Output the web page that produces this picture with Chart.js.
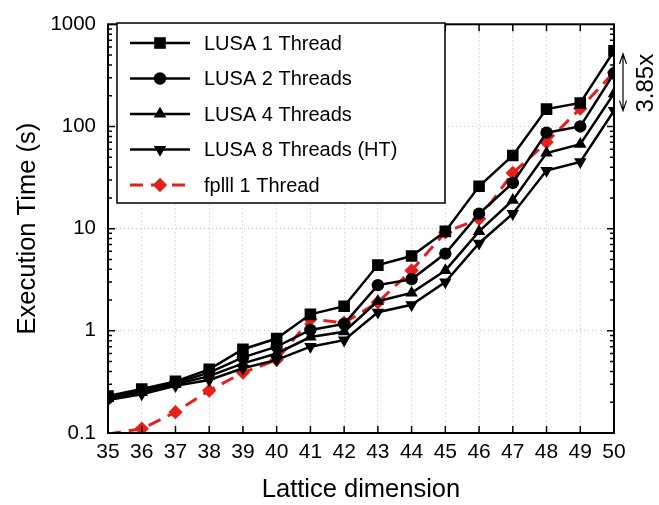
<!DOCTYPE html>
<html><head><meta charset="utf-8">
<script src="https://cdn.jsdelivr.net/npm/chart.js@4/dist/chart.umd.min.js"></script>
<style>html,body{margin:0;padding:0;background:#fff}canvas{display:block}</style>
</head><body>
<canvas id="c" width="659" height="505"></canvas>
<script>
const dims = ['35','36','37','38','39','40','41','42','43','44','45','46','47','48','49','50'];
const lusa1 = [0.23,0.27,0.32,0.42,0.66,0.84,1.45,1.74,4.4,5.4,9.4,26,52,148,170,550];
const lusa2 = [0.22,0.26,0.31,0.39,0.55,0.70,1.02,1.17,2.8,3.2,5.7,14,28,87,100,330];
const lusa4 = [0.22,0.25,0.30,0.36,0.48,0.60,0.87,0.98,1.95,2.35,3.9,9.4,19,55,67,210];
const lusa8 = [0.21,0.24,0.29,0.33,0.43,0.52,0.70,0.81,1.52,1.8,3.0,7.2,14,37,45,143];
const fplll = [0.098,0.11,0.16,0.26,0.39,0.52,1.3,1.2,1.9,3.9,9.2,12.5,35,70,150,340];
const yTicks = [0.1,1,10,100,1000];
const seriesNames = ['LUSA 1 Thread','LUSA 2 Threads','LUSA 4 Threads','LUSA 8 Threads (HT)','fplll 1 Thread'];
const speedupLabel = '3.85x';

const FONT = 'Liberation Sans, Arial, Helvetica, sans-serif';
const RED = '#e3211c';
function blackDs(label, data, style, r){
  return {label, data, borderColor:'#000', backgroundColor:'#000', borderWidth:2.5,
    pointStyle:style, pointRadius:r, pointHoverRadius:r, pointBorderWidth:0, tension:0, clip:0};
}
const datasets = [
  blackDs(seriesNames[0], lusa1, 'rect', 8.2),
  blackDs(seriesNames[1], lusa2, 'circle', 6.2),
  blackDs(seriesNames[2], lusa4, 'triangle', 7.2),
  Object.assign(blackDs(seriesNames[3], lusa8, 'triangle', 7.2), {rotation:180}),
  {label:seriesNames[4], data:fplll, borderColor:RED, backgroundColor:RED, borderWidth:3,
   borderDash:[13,8], pointStyle:'rectRot', pointRadius:(c)=> (c.raw < 0.1 ? 0 : 7.2),
   pointBorderWidth:0, tension:0, clip:0}
];

const decor = {
  id:'decor',
  afterDatasetsDraw(chart){
    const ctx = chart.ctx, a = chart.chartArea, xs = chart.scales.x, ys = chart.scales.y;
    ctx.save();
    ctx.strokeStyle = '#000'; ctx.lineWidth = 1.5;
    // inward ticks
    ctx.beginPath();
    for (let i=0;i<dims.length;i++){
      const px = xs.getPixelForValue(i);
      ctx.moveTo(px, a.bottom); ctx.lineTo(px, a.bottom-7);
      ctx.moveTo(px, a.top); ctx.lineTo(px, a.top+7);
    }
    for (let d=0.1; d<1000; d*=10){
      for (let m=1;m<10;m++){
        const v = d*m; const py = ys.getPixelForValue(v);
        const len = m===1?7:4;
        ctx.moveTo(a.left, py); ctx.lineTo(a.left+len, py);
        ctx.moveTo(a.right, py); ctx.lineTo(a.right-len, py);
      }
    }
    ctx.stroke();
    ctx.lineWidth = 2;
    ctx.strokeRect(a.left, a.top, a.right-a.left, a.bottom-a.top);

    // legend
    const lx = 117, ly = 23, lw = 328, lh = 180;
    ctx.fillStyle = '#fff';
    ctx.fillRect(lx, ly, lw, lh);
    ctx.lineWidth = 1.5; ctx.strokeStyle = '#000';
    ctx.strokeRect(lx, ly, lw, lh);
    ctx.font = '20px ' + FONT; ctx.textBaseline = 'middle'; ctx.textAlign = 'left';
    chart.data.datasets.forEach((ds, i) => {
      const y = ly + 20 + i*35.5;
      ctx.save();
      ctx.strokeStyle = ds.borderColor; ctx.lineWidth = ds.borderWidth;
      ctx.setLineDash(ds.borderDash || []);
      ctx.beginPath(); ctx.moveTo(130,y); ctx.lineTo(190,y);
      ctx.stroke();
      ctx.setLineDash([]);
      ctx.fillStyle = ds.backgroundColor;
      const r = typeof ds.pointRadius === 'function' ? 7.2 : ds.pointRadius;
      Chart.helpers.drawPoint(ctx, {pointStyle: ds.pointStyle, rotation: ds.rotation||0, radius: r, borderWidth:0}, 160, y);
      ctx.restore();
      ctx.fillStyle = '#000';
      ctx.fillText(ds.label, 204, y+1);
    });

    // speedup annotation
    const ax = 623, y1 = ys.getPixelForValue(lusa1[lusa1.length-1]) + 3, y2 = ys.getPixelForValue(lusa8[lusa8.length-1]);
    ctx.strokeStyle = '#000'; ctx.lineWidth = 1.2; ctx.setLineDash([]);
    ctx.beginPath();
    ctx.moveTo(ax, y1); ctx.lineTo(ax, y2);
    ctx.moveTo(ax-3.5, y1+10); ctx.lineTo(ax, y1); ctx.lineTo(ax+3.5, y1+10);
    ctx.moveTo(ax-3.5, y2-10); ctx.lineTo(ax, y2); ctx.lineTo(ax+3.5, y2-10);
    ctx.stroke();
    ctx.save();
    ctx.translate(646, (y1+y2)/2 + 1);
    ctx.rotate(-Math.PI/2);
    ctx.fillStyle = '#000'; ctx.textAlign = 'center'; ctx.textBaseline = 'middle';
    ctx.font = '24px ' + FONT;
    ctx.fillText(speedupLabel, 0, 0);
    ctx.restore();
    ctx.restore();
  }
};

new Chart(document.getElementById('c'), {
  type:'line',
  data:{labels:dims, datasets},
  options:{
    responsive:false, animation:false, devicePixelRatio:1,
    layout:{padding:{top:17, right:45, left:0, bottom:0}},
    plugins:{legend:{display:false}, tooltip:{enabled:false}},
    scales:{
      x:{
        type:'category', offset:false,
        grid:{color:'#c8c8c8', lineWidth:1, drawTicks:false},
        border:{display:false, dash:[1,3]},
        ticks:{color:'#000', font:{family:FONT, size:21}, padding:7, maxRotation:0, autoSkip:false},
        title:{display:true, text:'Lattice dimension', color:'#000', font:{family:FONT, size:25.5}, padding:{top:0,bottom:0}},
        afterFit(s){ s.height = 72; }
      },
      y:{
        type:'logarithmic', min:0.1, max:1000,
        afterBuildTicks(s){ s.ticks = yTicks.map(v=>({value:v})); },
        grid:{color:'#c8c8c8', lineWidth:1, drawTicks:false},
        border:{display:false, dash:[1,3]},
        ticks:{color:'#000', font:{family:FONT, size:20.5}, padding:12,
          callback:(v)=> (v===0.1?'0.1':String(v))},
        title:{display:true, text:'Execution Time (s)', color:'#000', font:{family:FONT, size:25.5}, padding:{top:13,bottom:0}},
        afterFit(s){ s.width = 108; }
      }
    }
  },
  plugins:[decor]
});
</script>
</body></html>
